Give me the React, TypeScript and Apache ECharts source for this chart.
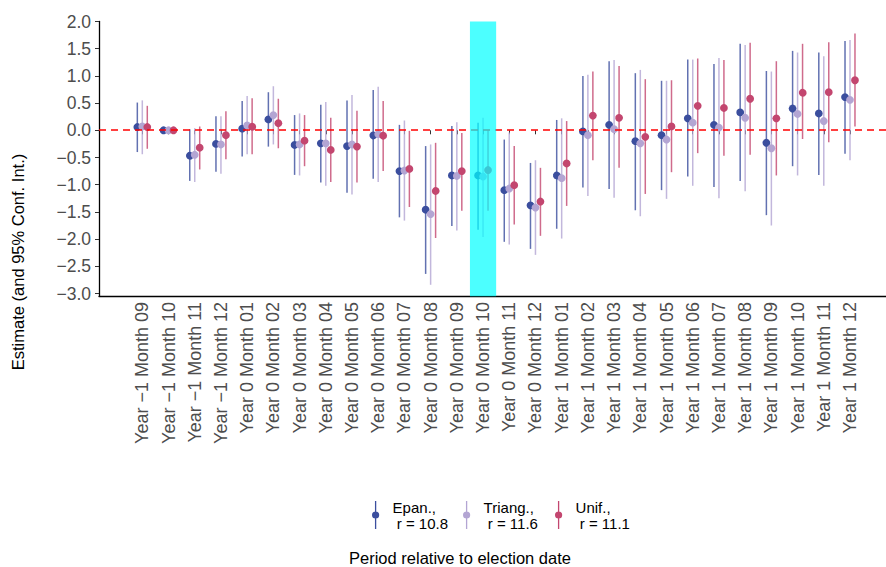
import React, { useEffect, useRef } from "react";
import * as echarts from "echarts";

const categories = [
  "Year \u22121 Month 09", "Year \u22121 Month 10", "Year \u22121 Month 11", "Year \u22121 Month 12",
  "Year 0 Month 01", "Year 0 Month 02", "Year 0 Month 03", "Year 0 Month 04",
  "Year 0 Month 05", "Year 0 Month 06", "Year 0 Month 07", "Year 0 Month 08",
  "Year 0 Month 09", "Year 0 Month 10", "Year 0 Month 11", "Year 0 Month 12",
  "Year 1 Month 01", "Year 1 Month 02", "Year 1 Month 03", "Year 1 Month 04",
  "Year 1 Month 05", "Year 1 Month 06", "Year 1 Month 07", "Year 1 Month 08",
  "Year 1 Month 09", "Year 1 Month 10", "Year 1 Month 11", "Year 1 Month 12",
];
const highlightCategory = "Year 0 Month 10";

const seriesNames = ["Epan.", "Triang.", "Unif."];
const legendLabels = ["Epan.,\n r = 10.8", "Triang.,\n r = 11.6", "Unif.,\n r = 11.1"];

const epanEst = [0.06, 0.0, -0.45, -0.25, 0.03, 0.2, -0.27, -0.24, -0.29, -0.08, -0.75, -1.46, -0.83, -0.83, -1.1, -1.38, -0.81, -0.02, 0.1, -0.2, -0.09, 0.22, 0.1, 0.34, -0.23, 0.4, 0.31, 0.61];
const epanLo = [-0.4, -0.02, -0.93, -0.76, -0.48, -0.3, -0.82, -0.96, -1.15, -0.89, -1.6, -2.64, -1.76, -1.83, -2.05, -2.18, -1.81, -1.05, -1.08, -1.47, -1.1, -0.85, -1.04, -0.93, -1.56, -0.66, -0.82, -0.43];
const epanHi = [0.51, 0.02, 0.02, 0.26, 0.54, 0.7, 0.28, 0.47, 0.55, 0.74, 0.1, -0.29, 0.08, 0.14, -0.17, -0.6, 0.19, 1.0, 1.27, 1.05, 0.91, 1.3, 1.22, 1.59, 1.09, 1.46, 1.43, 1.64];

const triEst = [0.07, 0.0, -0.45, -0.26, 0.09, 0.28, -0.26, -0.24, -0.26, -0.07, -0.74, -1.54, -0.84, -0.85, -1.07, -1.42, -0.88, -0.09, 0.02, -0.24, -0.17, 0.14, 0.05, 0.23, -0.33, 0.3, 0.17, 0.56];
const triLo = [-0.44, -0.02, -0.95, -0.8, -0.44, -0.26, -0.83, -1.02, -1.18, -0.95, -1.66, -2.84, -1.84, -1.96, -2.1, -2.29, -1.99, -1.21, -1.24, -1.58, -1.26, -1.02, -1.25, -1.12, -1.75, -0.83, -1.02, -0.55];
const triHi = [0.55, 0.02, 0.04, 0.26, 0.63, 0.81, 0.31, 0.52, 0.65, 0.8, 0.18, -0.26, 0.15, 0.23, -0.04, -0.55, 0.22, 1.02, 1.29, 1.11, 0.91, 1.3, 1.33, 1.57, 1.08, 1.43, 1.36, 1.66];

const unifEst = [0.06, 0.0, -0.32, -0.09, 0.08, 0.13, -0.19, -0.36, -0.3, -0.1, -0.71, -1.1, -0.75, -0.73, -1.01, -1.31, -0.61, 0.27, 0.24, -0.12, 0.07, 0.45, 0.41, 0.58, 0.22, 0.71, 0.7, 0.92];
const unifLo = [-0.34, -0.02, -0.72, -0.53, -0.44, -0.33, -0.66, -0.95, -0.96, -0.75, -1.41, -1.98, -1.48, -1.48, -1.73, -1.94, -1.39, -0.55, -0.69, -1.17, -0.77, -0.42, -0.47, -0.45, -0.83, -0.16, -0.22, 0.07];
const unifHi = [0.45, 0.02, 0.07, 0.35, 0.59, 0.58, 0.28, 0.23, 0.36, 0.54, -0.01, -0.23, -0.05, 0.0, -0.29, -0.69, 0.17, 1.08, 1.18, 0.94, 0.92, 1.32, 1.29, 1.61, 1.27, 1.59, 1.62, 1.78];

const yMin = -3;
const yMax = 2;
const yStep = 0.5;
const yPanelMin = -3.05;
const referenceValue = 0;

const FONT = "'Liberation Sans', Arial, Helvetica, sans-serif";
const colors = ["#3B4E9E", "#B3A5D3", "#C3466F"];
const dodges = [-0.19, 0, 0.19];

const LEGEND_ICON =
  "path://M3.35,0H4.65V28H3.35Z M7.6,14A3.6,3.6 0 1 1 0.4,14A3.6,3.6 0 1 1 7.6,14Z";

function makeSeries(idx: number, est: number[], lo: number[], hi: number[]) {
  const color = colors[idx];
  const dodge = dodges[idx];
  return {
    type: "custom",
    name: seriesNames[idx],
    xAxisIndex: 0,
    yAxisIndex: 0,
    z: 3,
    itemStyle: { color },
    encode: { x: 0, y: [1, 2, 3] },
    data: est.map((v, i) => [i, v, lo[i], hi[i]]),
    renderItem: (params: any, api: any) => {
      const i = api.value(0);
      const p = api.coord([i, api.value(1)]);
      const l = api.coord([i, api.value(2)]);
      const h = api.coord([i, api.value(3)]);
      const bw = api.size([1, 0])[0];
      const x = p[0] + bw * dodge;
      return {
        type: "group",
        children: [
          {
            type: "line",
            shape: { x1: x, y1: l[1], x2: x, y2: h[1] },
            style: { stroke: color, lineWidth: 1.5, opacity: 0.8 },
          },
          {
            type: "circle",
            shape: { cx: x, cy: p[1], r: 3.9 },
            style: { fill: color },
          },
        ],
      };
    },
  };
}

export default function App() {
  const ref = useRef<HTMLDivElement>(null);
  useEffect(() => {
    const chart = echarts.init(ref.current!, null, { renderer: "svg" });
    const bandIndex = categories.indexOf(highlightCategory);
    const option: any = {
      animation: false,
      backgroundColor: "#FFFFFF",
      textStyle: { fontFamily: FONT },
      grid: [
        { left: 129.2, width: 733.9, top: 21.5, height: 272 },
        { left: 99, right: 0, top: 21.5, height: 274.5 },
      ],
      xAxis: [
        {
          type: "category",
          gridIndex: 0,
          data: categories,
          offset: 2.5,
          axisLine: { show: false },
          axisTick: { show: true, alignWithLabel: true, length: 4, lineStyle: { color: "#333333", width: 1 } },
          axisLabel: { rotate: 90, interval: 0, margin: 6, color: "#4D4D4D", fontSize: 18, fontFamily: FONT },
          splitLine: { show: false },
        },
        {
          type: "value",
          gridIndex: 1,
          min: 0,
          max: 1,
          axisLine: { show: true, onZero: false, lineStyle: { color: "#000000", width: 1.3 } },
          axisTick: { show: false },
          axisLabel: { show: false },
          splitLine: { show: false },
        },
      ],
      yAxis: [
        {
          type: "value",
          gridIndex: 0,
          min: yMin,
          max: yMax,
          interval: yStep,
          offset: 30.2,
          axisLine: { show: false },
          axisTick: { show: true, length: 4, lineStyle: { color: "#333333", width: 1 } },
          axisLabel: {
            color: "#4D4D4D",
            fontSize: 17.5,
            margin: 8,
            fontFamily: FONT,
            formatter: (v: number) => v.toFixed(1).replace("-", "\u2212"),
          },
          splitLine: { show: false },
        },
        {
          type: "value",
          gridIndex: 1,
          min: yPanelMin,
          max: yMax,
          axisLine: { show: true, onZero: false, lineStyle: { color: "#000000", width: 1.3 } },
          axisTick: { show: false },
          axisLabel: { show: false },
          splitLine: { show: false },
        },
      ],
      legend: seriesNames.map((n, i) => ({
        data: [{ name: n, icon: LEGEND_ICON, itemStyle: { color: colors[i] } }],
        left: [372, 463, 555][i],
        top: 499,
        padding: 0,
        itemWidth: 24,
        itemHeight: 28,
        selectedMode: false,
        formatter: () => legendLabels[i],
        textStyle: { fontSize: 15, color: "#000000", lineHeight: 16, fontFamily: FONT },
      })),
      graphic: [
        {
          type: "text",
          x: 18,
          y: 262,
          rotation: Math.PI / 2,
          style: {
            text: "Estimate (and 95% Conf. Int.)",
            fontSize: 16.5,
            fontFamily: FONT,
            fill: "#000000",
            align: "center",
            verticalAlign: "middle",
          },
        },
        {
          type: "text",
          x: 460,
          y: 558,
          style: {
            text: "Period relative to election date",
            fontSize: 16.5,
            fontFamily: FONT,
            fill: "#000000",
            align: "center",
            verticalAlign: "middle",
          },
        },
      ],
      series: [
        {
          type: "line",
          name: "zero",
          xAxisIndex: 1,
          yAxisIndex: 1,
          data: [],
          z: 1,
          silent: true,
          markLine: {
            silent: true,
            symbol: "none",
            label: { show: false },
            lineStyle: { color: "#FF0000", type: [7, 5], width: 1.5 },
            data: [{ yAxis: referenceValue }],
          },
        },
        makeSeries(0, epanEst, epanLo, epanHi),
        makeSeries(1, triEst, triLo, triHi),
        makeSeries(2, unifEst, unifLo, unifHi),
        {
          type: "custom",
          name: "highlight",
          xAxisIndex: 0,
          yAxisIndex: 0,
          z: 6,
          silent: true,
          data: [[bandIndex]],
          encode: { x: 0 },
          renderItem: (params: any, api: any) => {
            const i = api.value(0);
            const top = api.coord([i, yMax]);
            const bot = api.coord([i, yPanelMin]);
            const w = api.size([1, 0])[0];
            return {
              type: "rect",
              shape: { x: top[0] - w / 2, y: top[1], width: w, height: bot[1] - top[1] },
              style: { fill: "rgba(0,255,255,0.7)" },
            };
          },
        },
      ],
    };
    chart.setOption(option);
    return () => chart.dispose();
  }, []);
  return (
    <div
      ref={ref}
      style={{ position: "fixed", left: 0, top: 0, width: 886, height: 567 }}
    />
  );
}
